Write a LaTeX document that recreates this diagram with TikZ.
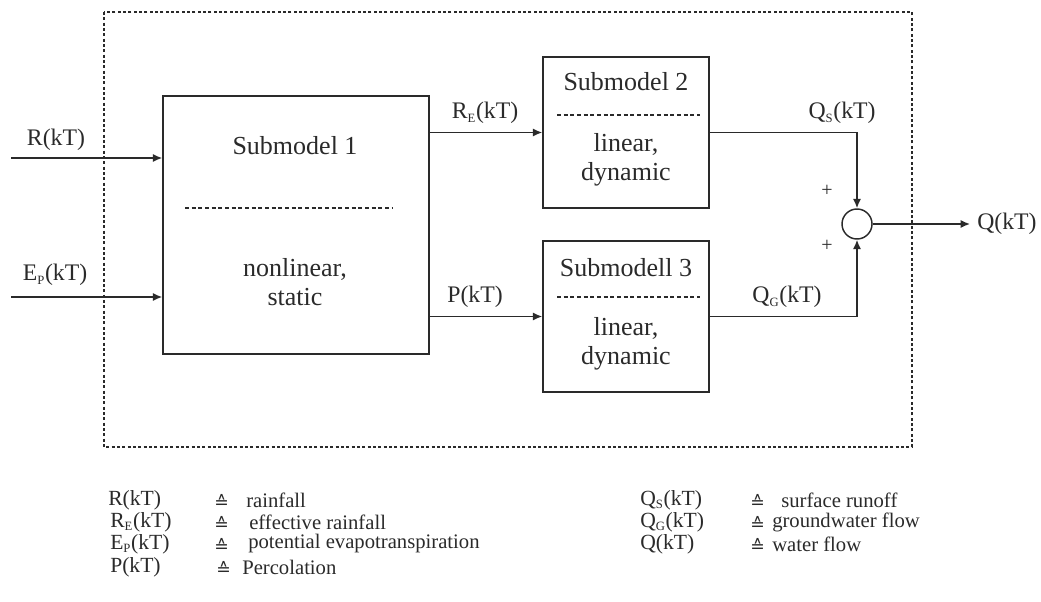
\documentclass[tikz,border=0pt]{standalone}
\usepackage{fontspec}
\setmainfont{Liberation Serif}
\newfontfamily\djv{DejaVu Sans}
\usetikzlibrary{arrows.meta,fit}
\newcommand\lsub[1]{\textsubscript{\fontsize{9.5}{9.5}\selectfont #1}}
\newcommand\corr{{\djv\fontsize{13}{13}\selectfont ≙}}
\definecolor{ink}{HTML}{2A2A2A}
\begin{document}
\begin{tikzpicture}[x=0.75pt,y=-0.75pt,
  box/.style={draw=ink, line width=1.1pt, inner sep=0pt},
  txt/.style={text=ink, font=\fontsize{19.5}{22}\selectfont, inner sep=0pt},
  lbl/.style={text=ink, font=\fontsize{17.8}{20}\selectfont, inner sep=0pt},
  leg/.style={text=ink, font=\fontsize{15.5}{17}\selectfont, inner sep=0pt, anchor=west},
  key/.style={leg, font=\fontsize{16.2}{17}\selectfont},
  eq/.style={text=ink, inner sep=0pt, anchor=west},
  arr/.style={draw=ink, line width=1.1pt, -{Latex[length=7pt,width=6pt]}},
  sep/.style={draw=ink, line width=0.9pt, dash pattern=on 3pt off 2pt},
  frame/.style={draw=ink, line width=1pt, dash pattern=on 2.2pt off 1.8pt}]
\useasboundingbox (0,0) rectangle (1041,602);
% outer frame
\coordinate (fa) at (104,12);
\coordinate (fb) at (912,447);
\draw[frame] (fa) rectangle (fb);
% submodel 1
\coordinate (s1a) at (163,96);
\coordinate (s1b) at (429,354);
\node[box, fit=(s1a)(s1b)] (s1) {};
\node[txt] (s1t) at (295,146) {Submodel 1};
\coordinate (s1l) at (185,208);
\coordinate (s1r) at (393,208);
\draw[sep] (s1l) -- (s1r);
\node[txt, align=center] (s1d) at (295,282) {nonlinear,\\static};
% submodel 2
\coordinate (s2a) at (543,57);
\coordinate (s2b) at (709,208);
\node[box, fit=(s2a)(s2b)] (s2) {};
\node[txt] (s2t) at (626,82) {Submodel 2};
\coordinate (s2l) at (557,115);
\coordinate (s2r) at (700,115);
\draw[sep] (s2l) -- (s2r);
\node[txt, align=center] (s2d) at (626,160) {linear,\\dynamic};
% submodel 3
\coordinate (s3a) at (543,241);
\coordinate (s3b) at (709,392);
\node[box, fit=(s3a)(s3b)] (s3) {};
\node[txt] (s3t) at (626,268) {Submodell 3};
\coordinate (s3l) at (557,297);
\coordinate (s3r) at (700,297);
\draw[sep] (s3l) -- (s3r);
\node[txt, align=center] (s3d) at (626,344) {linear,\\dynamic};
% sum
\node[circle, draw=ink, line width=1.1pt, minimum size=22.5pt, inner sep=0pt] (sum) at (857,224) {};
\node[text=ink, font=\fontsize{15}{15}\selectfont, inner sep=0pt] (p1) at (827,191) {+};
\node[text=ink, font=\fontsize{15}{15}\selectfont, inner sep=0pt] (p2) at (827,246) {+};
% inputs
\coordinate (rin) at (11,158);
\coordinate (ein) at (11,297);
\draw[arr] (rin) -- (rin -| s1.west);
\draw[arr] (ein) -- (ein -| s1.west);
\node[lbl] (lr) at (56,140) {R(kT)};
\node[lbl] (le) at (55,275) {E\lsub{P}(kT)};
% internal
\draw[arr] (s1.east |- s2.west) -- (s2.west);
\draw[arr] (s1.east |- s3.west) -- (s3.west);
\node[lbl] (lre) at (485,113) {R\lsub{E}(kT)};
\node[lbl] (lp) at (475,297) {P(kT)};
\draw[arr] (s2.east) -| (sum.north);
\draw[arr] (s3.east) -| (sum.south);
\node[lbl] (lqs) at (842,113) {Q\lsub{S}(kT)};
\node[lbl] (lqg) at (787,297) {Q\lsub{G}(kT)};
% output
\coordinate (qout) at (970,224);
\draw[arr] (sum.east) -- (qout);
\node[lbl, anchor=west] (lq) at (977,224) {Q(kT)};
% legend left
\node[key] (a1) at (108,500) {R(kT)};
\node[key] (a2) at (110,522) {R\lsub{E}(kT)};
\node[key] (a3) at (110,544) {E\lsub{P}(kT)};
\node[key] (a4) at (110,567) {P(kT)};
\node[eq] (b1) at (214,501) {\corr};
\node[eq] (b2) at (214,523) {\corr};
\node[eq] (b3) at (214,545) {\corr};
\node[eq] (b4) at (216,568) {\corr};
\node[leg] (c1) at (246,500) {rainfall};
\node[leg] (c2) at (249,522) {effective rainfall};
\node[leg] (c3) at (248,544) {potential evapotranspiration};
\node[leg] (c4) at (242,567) {Percolation};
% legend right
\node[key] (d1) at (640,500) {Q\lsub{S}(kT)};
\node[key] (d2) at (640,522) {Q\lsub{G}(kT)};
\node[key] (d3) at (640,544) {Q(kT)};
\node[eq] (e1) at (750,501) {\corr};
\node[eq] (e2) at (750,523) {\corr};
\node[eq] (e3) at (750,545) {\corr};
\node[leg] (f1) at (781,500) {surface runoff};
\node[leg] (f2) at (772,522) {groundwater flow};
\node[leg] (f3) at (772,544) {water flow};
\end{tikzpicture}
\end{document}
